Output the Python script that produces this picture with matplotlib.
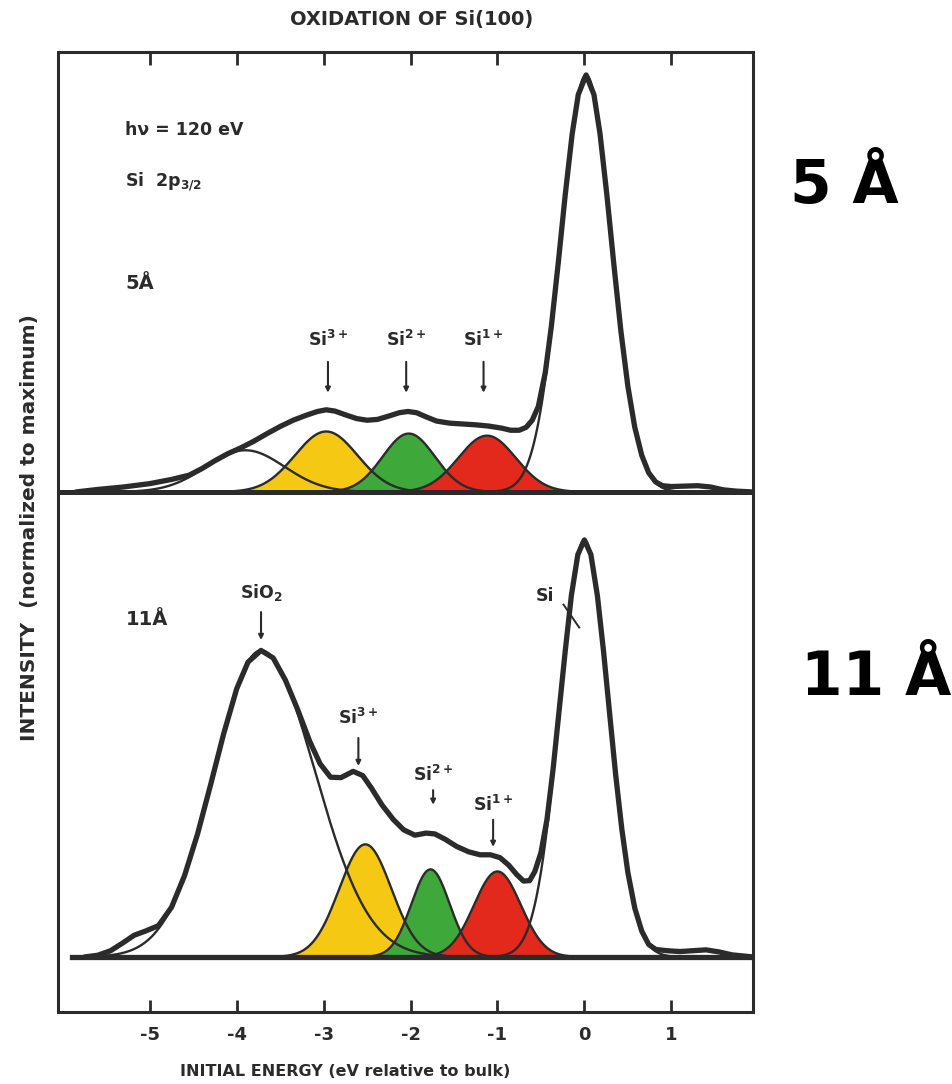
import numpy as np
import matplotlib
matplotlib.use('Agg')
import matplotlib.pyplot as plt

plt.rcParams['font.family'] = ['DejaVu Sans']
plt.rcParams['font.weight'] = 'bold'
plt.rcParams['mathtext.default'] = 'regular'
plt.rcParams['axes.unicode_minus'] = False

# --- data -----------------------------------------------------------------
energy_ticks = [-5, -4, -3, -2, -1, 0, 1]

# 5 A film: measured spectrum (thick line), eV relative to bulk / normalized intensity
top_E = [-5.85, -5.6, -5.3, -5.0, -4.75, -4.55, -4.4, -4.25, -4.1, -3.95,
         -3.8, -3.65, -3.5, -3.35, -3.2, -3.07, -2.97, -2.87, -2.75, -2.62,
         -2.5, -2.38, -2.25, -2.13, -2.03, -1.93, -1.82, -1.7, -1.55, -1.4,
         -1.25, -1.1, -0.95, -0.85, -0.75, -0.67, -0.6, -0.53, -0.45, -0.38,
         -0.30, -0.22, -0.14, -0.07, 0.02, 0.11, 0.18, 0.26, 0.34, 0.42,
         0.50, 0.58, 0.66, 0.74, 0.82, 0.90, 1.0, 1.15, 1.3, 1.45,
         1.6, 1.75, 1.94]
top_I = [0.0, 0.006, 0.012, 0.02, 0.03, 0.04, 0.056, 0.075, 0.092, 0.106,
         0.122, 0.14, 0.157, 0.172, 0.184, 0.193, 0.197, 0.194, 0.185, 0.176,
         0.172, 0.174, 0.182, 0.19, 0.193, 0.19, 0.18, 0.17, 0.165, 0.163,
         0.161, 0.158, 0.153, 0.148, 0.148, 0.155, 0.172, 0.205, 0.286, 0.397,
         0.55, 0.713, 0.859, 0.953, 1.0, 0.953, 0.859, 0.71, 0.544, 0.386,
         0.254, 0.155, 0.088, 0.046, 0.024, 0.015, 0.013, 0.014, 0.015, 0.012,
         0.005, 0.002, 0.0]

# 5 A film: fitted components (SiO2-like, Si3+, Si2+, Si1+, bulk Si)
top_centers = [-3.90, -2.97, -2.02, -1.12, 0.02]
top_heights = [0.10, 0.145, 0.14, 0.135, 1.0]
top_wl = [0.45, 0.36, 0.30, 0.33, 0.29]
top_wr = [0.45, 0.36, 0.30, 0.33, 0.29]

# 11 A film: measured spectrum
low_E = [-5.75, -5.6, -5.45, -5.3, -5.18, -5.05, -4.9, -4.75, -4.6, -4.45,
         -4.3, -4.15, -4.0, -3.87, -3.72, -3.58, -3.44, -3.30, -3.16, -3.04,
         -2.92, -2.80, -2.66, -2.55, -2.45, -2.33, -2.20, -2.08, -1.95, -1.82,
         -1.72, -1.60, -1.47, -1.33, -1.20, -1.08, -0.97, -0.87, -0.78, -0.70,
         -0.63, -0.57, -0.50, -0.43, -0.36, -0.29, -0.22, -0.15, -0.075, 0.0,
         0.075, 0.15, 0.22, 0.29, 0.36, 0.43, 0.50, 0.58, 0.66, 0.74,
         0.82, 0.95, 1.1, 1.25, 1.4, 1.55, 1.7, 1.94]
low_I = [0.0, 0.004, 0.015, 0.035, 0.052, 0.062, 0.075, 0.119, 0.195, 0.295,
         0.413, 0.535, 0.643, 0.707, 0.735, 0.717, 0.664, 0.594, 0.517, 0.463,
         0.431, 0.43, 0.445, 0.435, 0.405, 0.365, 0.33, 0.305, 0.292, 0.297,
         0.295, 0.282, 0.265, 0.252, 0.245, 0.245, 0.238, 0.22, 0.198, 0.182,
         0.183, 0.205, 0.25, 0.33, 0.45, 0.592, 0.734, 0.866, 0.965, 1.0,
         0.965, 0.866, 0.734, 0.585, 0.437, 0.308, 0.203, 0.117, 0.062, 0.03,
         0.018, 0.015, 0.013, 0.015, 0.017, 0.012, 0.005, 0.0]

# 11 A film: fitted components (SiO2, Si3+, Si2+, Si1+, bulk Si)
low_centers = [-3.72, -2.52, -1.77, -1.00, 0.0]
low_heights = [0.735, 0.27, 0.21, 0.205, 1.0]
low_wl = [0.54, 0.30, 0.22, 0.27, 0.28]
low_wr = [0.62, 0.30, 0.22, 0.27, 0.28]

# --- style / layout -------------------------------------------------------
ink = '#2b2b2b'
comp_colors = [None, '#f5c814', '#3ea83a', '#e2291c', None]
top_off = 1.115          # vertical offset of the 5 A spectrum
xlim = (-6.05, 1.94)
ylim = (-0.132, 2.17)


def peak(E, c, h, wl, wr):
    w = np.where(E < c, wl, wr)
    return h * np.exp(-0.5 * ((E - c) / w) ** 2)


fig = plt.figure(figsize=(9.53, 10.84), dpi=100)
ax = fig.add_axes([58.5 / 953, 1 - 1012 / 1084, 694.5 / 953, 960 / 1084])

E = np.linspace(xlim[0], xlim[1], 1600)
panels = [(top_off, top_centers, top_heights, top_wl, top_wr, top_E, top_I),
          (0.0, low_centers, low_heights, low_wl, low_wr, low_E, low_I)]

for off, cs, hs, wls, wrs, tE, tI in panels:
    curves = []
    for c, h, wl, wr in zip(cs, hs, wls, wrs):
        g = peak(E, c, h, wl, wr)
        m = g > 0.002
        curves.append((E[m], g[m]))
    # coloured fills first, outlines on top
    for (x, g), col in zip(curves, comp_colors):
        if col:
            ax.fill_between(x, off, off + g, color=col, lw=0, zorder=1)
    for x, g in curves:
        ax.plot(x, off + g, color=ink, lw=1.7, zorder=2)
    ax.plot(tE, off + np.array(tI), color=ink, lw=3.8, zorder=3,
            solid_joinstyle='round', solid_capstyle='round')

# baselines
ax.plot(xlim, [top_off, top_off], color=ink, lw=3.6, zorder=3)
ax.plot([-5.9, xlim[1]], [0, 0], color=ink, lw=3.8, zorder=3)

# labels inside the panels
lab = dict(color=ink, fontsize=12.5, fontweight='bold')
ax.text(-5.28, 1.983, 'hν = 120 eV', va='center', **lab)
ax.text(-5.28, 1.86, r'Si  2p$_{3/2}$', va='center', **lab)
ax.text(-5.28, 1.616, '5Å', va='center', color=ink, fontsize=14, fontweight='bold')
ax.text(-5.28, 0.808, '11Å', va='center', color=ink, fontsize=14, fontweight='bold')


def mark(x, y_lab, y0, y1, s):
    ax.text(x, y_lab, s, ha='center', va='center', **lab)
    ax.annotate('', xy=(x, y1), xytext=(x, y0),
                arrowprops=dict(arrowstyle='-|>', lw=1.5, color=ink,
                                mutation_scale=7, shrinkA=0, shrinkB=0))


mark(-2.95, 1.48, 1.427, 1.353, r'Si$^{3+}$')
mark(-2.05, 1.48, 1.427, 1.353, r'Si$^{2+}$')
mark(-1.16, 1.48, 1.427, 1.353, r'Si$^{1+}$')
mark(-3.72, 0.875, 0.827, 0.760, r'SiO$_2$')
mark(-2.60, 0.573, 0.525, 0.458, r'Si$^{3+}$')
mark(-1.74, 0.436, 0.400, 0.365, r'Si$^{2+}$')
mark(-1.05, 0.364, 0.329, 0.264, r'Si$^{1+}$')
ax.text(-0.45, 0.865, 'Si', ha='center', va='center', **lab)
ax.plot([-0.24, -0.06], [0.845, 0.79], color=ink, lw=1.4, zorder=4)

# frame and ticks
ax.set_xlim(*xlim)
ax.set_ylim(*ylim)
for sp in ax.spines.values():
    sp.set_linewidth(2.2)
    sp.set_color(ink)
ax.set_xticks(energy_ticks)
ax.set_xticklabels([str(t) for t in energy_ticks], fontsize=13, fontweight='bold', color=ink)
ax.set_yticks([top_off])
ax.set_yticklabels([])
ax.tick_params(axis='x', direction='in', top=True, length=9, width=2, color=ink, pad=10)
ax.tick_params(axis='y', direction='in', length=6, width=2, color=ink)

fig.text(412 / 953, 1 - 19 / 1084, 'OXIDATION OF Si(100)', ha='center', va='center',
         fontsize=14, fontweight='bold', color=ink)
fig.text(345 / 953, 1 - 1071 / 1084, 'INITIAL ENERGY (eV relative to bulk)', ha='center',
         va='center', fontsize=11.5, fontweight='bold', color=ink)
fig.text(30 / 953, 1 - 528 / 1084, 'INTENSITY  (normalized to maximum)', ha='center',
         va='center', rotation=90, fontsize=14.5, fontweight='bold', color=ink)

big = dict(fontsize=43, fontweight='bold', color='black', ha='left', va='baseline')
fig.text(790 / 953, 1 - 203 / 1084, '5 Å', **big)
fig.text(801 / 953, 1 - 695 / 1084, '11 Å', **big)

fig.savefig('out.png', dpi=100, facecolor='white')
